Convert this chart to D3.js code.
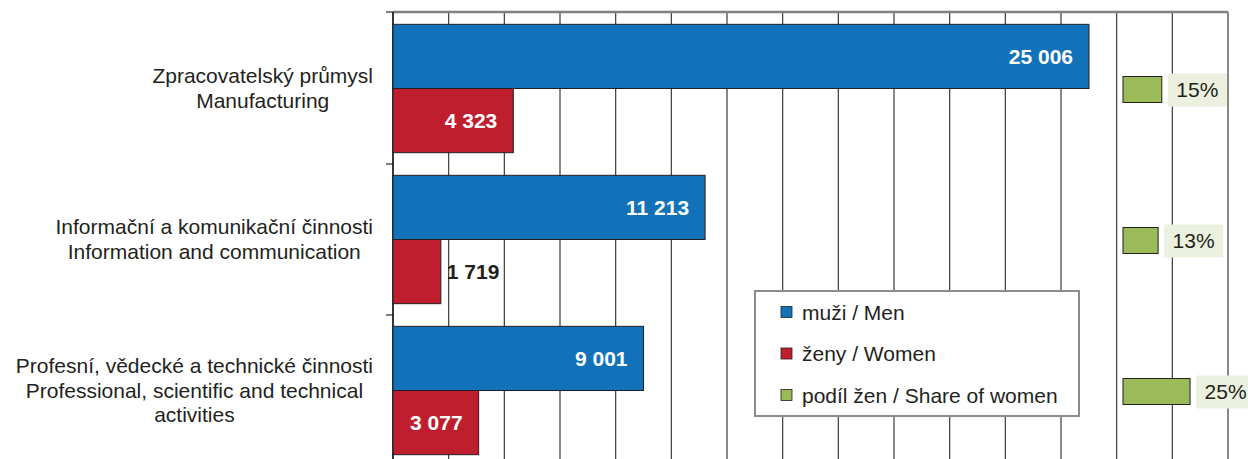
<!DOCTYPE html>
<html>
<head>
<meta charset="utf-8">
<script src="https://cdn.jsdelivr.net/npm/d3@7"></script>
<style>
  body { margin: 0; background: #fff; }
  svg { display: block; font-family: "Liberation Sans", Arial, sans-serif; }
</style>
</head>
<body>
<div id="chartContainer"></div>
<script>
// data
var categories = ["manufacturing", "ict", "professional"];
var categoryLines = [
  ["Zpracovatelský průmysl", "Manufacturing"],
  ["Informační a komunikační činnosti", "Information and communication"],
  ["Profesní, vědecké a technické činnosti", "Professional, scientific and technical", "activities"]
];
var men = [25006, 11213, 9001];
var women = [4323, 1719, 3077];
var shareOfWomen = [0.147, 0.133, 0.254];
var xTicks = d3.range(0, 30001, 2000);
var legendLabels = ["muži / Men", "ženy / Women", "podíl žen / Share of women"];

var colors = { men: "#1172ba", women: "#be1e2d", share: "#9bbb59", shareLabel: "#ebf1de" };

var width = 1248, height = 459;
var plotLeft = 393, plotRight = 1228, plotTop = 12, plotBottom = 466;
var fontSize = 21;

var fmt = d3.formatLocale({ decimal: ",", thousands: " ", grouping: [3], currency: ["", ""] }).format(",d");
var pct = d3.format(".0%");

var svg = d3.select("#chartContainer")
  .append("svg")
    .attr("width", width)
    .attr("height", height);

// scales
var x = d3.scaleLinear()
  .domain([0, 30000])
  .range([plotLeft, plotRight]);

// share of women sits on its own axis
var xShare = d3.scaleLinear()
  .domain([0, 1])
  .range([1123, 1123 + 264]);

var y = d3.scaleBand()
  .domain(categories)
  .range([plotTop + 1, plotBottom])
  .paddingInner(0.15)
  .paddingOuter(0.075);

var sub = d3.scaleBand()
  .domain(["men", "women"])
  .range([0, y.bandwidth()]);

// vertical gridlines
svg.append("g")
  .selectAll("line")
  .data(xTicks)
  .join("line")
    .attr("x1", function(d) { return x(d); })
    .attr("x2", function(d) { return x(d); })
    .attr("y1", plotTop)
    .attr("y2", height)
    .attr("stroke", "#3a3a3a")
    .attr("stroke-width", 1.2);

// top border
svg.append("line")
  .attr("x1", plotLeft).attr("x2", plotRight)
  .attr("y1", plotTop).attr("y2", plotTop)
  .attr("stroke", "#808080")
  .attr("stroke-width", 2.5);

// category axis with ticks between categories
var bounds = [plotTop].concat(categories.slice(1).map(function(c) { return y(c) - y.step() * y.paddingInner() / 2; }));
svg.append("line")
  .attr("x1", plotLeft).attr("x2", plotLeft)
  .attr("y1", plotTop).attr("y2", height)
  .attr("stroke", "#000")
  .attr("stroke-width", 1.2);
svg.append("g")
  .selectAll("line")
  .data(bounds)
  .join("line")
    .attr("x1", plotLeft - 7).attr("x2", plotLeft)
    .attr("y1", function(d) { return d; })
    .attr("y2", function(d) { return d; })
    .attr("stroke", "#000");

// category labels, multi-line centred blocks ending at x=373
var labelG = svg.append("g");
categories.forEach(function(c, i) {
  var lines = categoryLines[i];
  var t = labelG.append("text")
    .attr("font-size", fontSize)
    .attr("fill", "#231f20")
    .attr("text-anchor", "middle");
  var cy = y(c) + y.bandwidth() / 2;
  var lh = 24.5;
  var y0 = cy - (lines.length - 1) * lh / 2 + 7;
  lines.forEach(function(l, j) {
    t.append("tspan").attr("x", 0).attr("y", y0 + j * lh).text(l);
  });
  var w = t.node().getBBox().width;
  t.selectAll("tspan").attr("x", 373 - w / 2);
});

// bars
function drawSeries(key, values, color) {
  var g = svg.append("g");
  g.selectAll("rect")
    .data(values)
    .join("rect")
      .attr("x", x(0))
      .attr("y", function(d, i) { return y(categories[i]) + sub(key); })
      .attr("width", function(d) { return x(d) - x(0); })
      .attr("height", sub.bandwidth())
      .attr("fill", color)
      .attr("stroke", "#231f20")
      .attr("stroke-width", 1);
  g.selectAll("text")
    .data(values)
    .join("text")
      .attr("font-size", fontSize)
      .attr("font-weight", "bold")
      .attr("y", function(d, i) { return y(categories[i]) + sub(key) + sub.bandwidth() / 2 + 7.5; })
      .each(function(d) {
        var inside = x(d) - x(0) > 75;
        d3.select(this)
          .attr("x", inside ? x(d) - 16 : x(d) + 6)
          .attr("text-anchor", inside ? "end" : "start")
          .attr("fill", inside ? "#fff" : "#231f20");
      })
      .text(function(d) { return fmt(d); });
}
drawSeries("men", men, colors.men);
drawSeries("women", women, colors.women);

// share of women
var shareG = svg.append("g");
shareOfWomen.forEach(function(s, i) {
  var cy = y(categories[i]) + y.bandwidth() / 2 + 1;
  shareG.append("rect")
    .attr("x", xShare(0))
    .attr("y", cy - 13)
    .attr("width", xShare(s) - xShare(0))
    .attr("height", 26)
    .attr("fill", colors.share)
    .attr("stroke", "#231f20")
    .attr("stroke-width", 1);
  var lx = xShare(s) + 6;
  shareG.append("rect")
    .attr("x", lx)
    .attr("y", cy - 16)
    .attr("width", 59)
    .attr("height", 33)
    .attr("fill", colors.shareLabel);
  shareG.append("text")
    .attr("x", lx + 29.5)
    .attr("y", cy + 7.5)
    .attr("text-anchor", "middle")
    .attr("font-size", fontSize)
    .attr("fill", "#231f20")
    .text(pct(s));
});

// legend
var legend = svg.append("g").attr("transform", "translate(755,291)");
legend.append("rect")
  .attr("width", 324)
  .attr("height", 125)
  .attr("fill", "#fff")
  .attr("stroke", "#8c8c8c")
  .attr("stroke-width", 2);
var legendColors = [colors.men, colors.women, colors.share];
legendLabels.forEach(function(l, i) {
  var ly = 21 + i * 41.5;
  legend.append("rect")
    .attr("x", 26).attr("y", ly - 5.5)
    .attr("width", 11).attr("height", 11)
    .attr("fill", legendColors[i])
    .attr("stroke", "#231f20")
    .attr("stroke-width", 0.8);
  legend.append("text")
    .attr("x", 47).attr("y", ly + 7.5)
    .attr("font-size", fontSize)
    .attr("fill", "#231f20")
    .text(l);
});
</script>
</body>
</html>
